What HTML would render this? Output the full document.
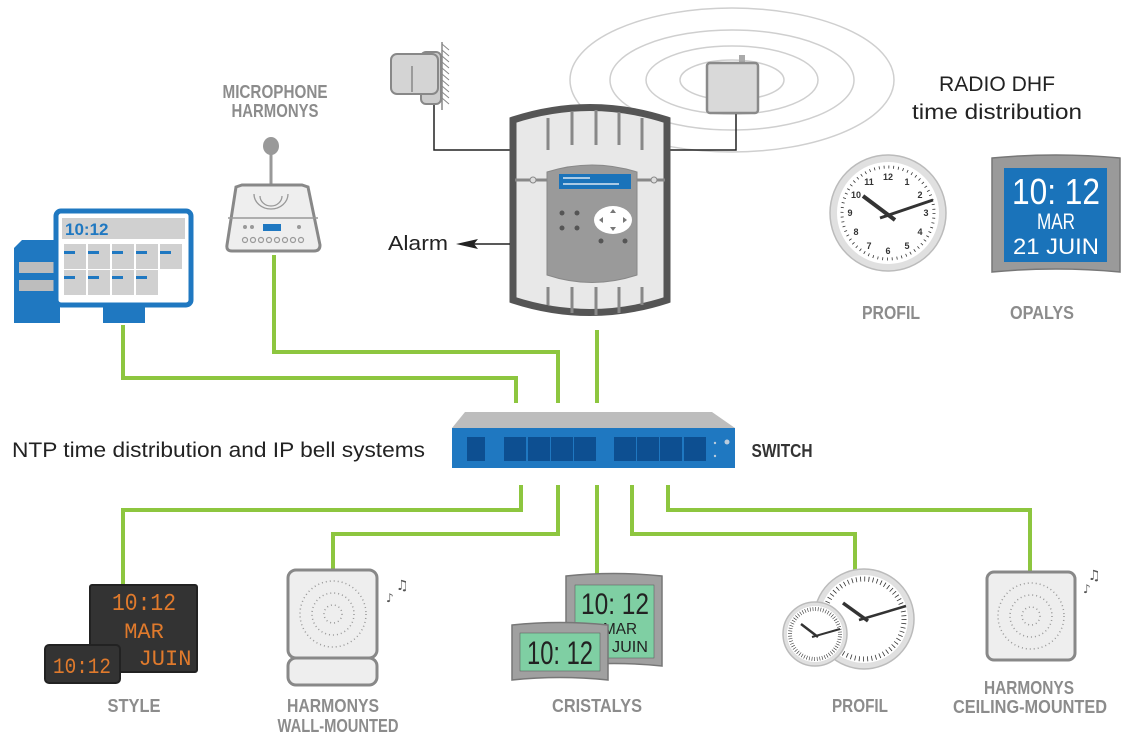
<!DOCTYPE html>
<html><head><meta charset="utf-8"><style>
html,body{margin:0;padding:0;background:#fff;}
svg{display:block;}
.lbl{font-family:"Liberation Sans Narrow","Liberation Sans",sans-serif;font-weight:bold;fill:#8c8c8c;font-size:18px;text-anchor:middle;}
.txt{font-family:"Liberation Sans",sans-serif;fill:#222;}
.g{stroke:#8dc63f;stroke-width:4;fill:none;}
</style></head><body>
<svg width="1135" height="745" viewBox="0 0 1135 745" xmlns="http://www.w3.org/2000/svg">
<g fill="none" stroke="#cfcfcf" stroke-width="1.5">
<ellipse cx="732" cy="80" rx="162" ry="72"/>
<ellipse cx="732" cy="80" rx="122" ry="50"/>
<ellipse cx="732" cy="80" rx="86" ry="34"/>
<ellipse cx="732" cy="80" rx="52" ry="20"/>
</g>
<polyline points="434,100 434,150 512,150" fill="none" stroke="#222" stroke-width="1.5"/>
<polyline points="736,113 736,150 670,150" fill="none" stroke="#222" stroke-width="1.5"/>
<rect x="739" y="55" width="6" height="8" fill="#aaa"/>
<rect x="707" y="63" width="51" height="50" rx="3" fill="#d9d9d9" stroke="#8a8a8a" stroke-width="2.5"/>
<g stroke="#888" stroke-width="1">
<line x1="442" y1="42" x2="442" y2="110" stroke-width="1.5"/>
<path d="M442 44 l7 6 M442 50 l7 6 M442 56 l7 6 M442 62 l7 6 M442 68 l7 6 M442 74 l7 6 M442 80 l7 6 M442 86 l7 6 M442 92 l7 6 M442 98 l7 6"/>
</g>
<rect x="421" y="52" width="20" height="52" rx="5" fill="#ccc" stroke="#888" stroke-width="2"/>
<rect x="391" y="54" width="47" height="40" rx="6" fill="#d4d4d4" stroke="#888" stroke-width="2"/>
<line x1="412" y1="66" x2="412" y2="92" stroke="#888" stroke-width="1.5"/>
<path d="M513 120 Q590 95 667 120 L667 300 Q590 325 513 300 Z" fill="#e8e8e8" stroke="#555" stroke-width="7"/>
<g stroke="#888" stroke-width="3">
<line x1="548" y1="118" x2="548" y2="150"/><line x1="572" y1="112" x2="572" y2="145"/><line x1="596" y1="110" x2="596" y2="145"/><line x1="619" y1="112" x2="619" y2="145"/><line x1="642" y1="118" x2="642" y2="150"/>
<line x1="548" y1="287" x2="548" y2="305"/><line x1="572" y1="287" x2="572" y2="313"/><line x1="596" y1="287" x2="596" y2="315"/><line x1="619" y1="287" x2="619" y2="313"/><line x1="642" y1="287" x2="642" y2="305"/>
<line x1="515" y1="180" x2="547" y2="180"/><line x1="637" y1="180" x2="665" y2="180"/>
</g>
<circle cx="533" cy="180" r="3" fill="#ddd" stroke="#888"/><circle cx="654" cy="180" r="3" fill="#ddd" stroke="#888"/>
<path d="M547 172 Q592 158 637 172 L637 275 Q592 290 547 275 Z" fill="#9a9a9a" stroke="#888" stroke-width="1"/>
<rect x="559" y="174" width="72" height="15" fill="#1a73ba"/>
<line x1="563" y1="178" x2="590" y2="178" stroke="#fff" stroke-width="1.3"/><line x1="563" y1="184" x2="619" y2="184" stroke="#fff" stroke-width="1.3"/>
<g fill="#555"><circle cx="562" cy="213" r="2.5"/><circle cx="577" cy="213" r="2.5"/><circle cx="562" cy="228" r="2.5"/><circle cx="577" cy="228" r="2.5"/><circle cx="601" cy="241" r="2.5"/><circle cx="625" cy="241" r="2.5"/></g>
<ellipse cx="613" cy="220" rx="19" ry="14" fill="#fff"/>
<g fill="#777"><path d="M613 209 l-3 4 h6z"/><path d="M613 231 l-3 -4 h6z"/><path d="M599 220 l4 -3 v6z"/><path d="M627 220 l-4 -3 v6z"/></g>
<line x1="510" y1="244" x2="470" y2="244" stroke="#222" stroke-width="1.5"/>
<path d="M456 244 L478 239 L474 244 L478 249 Z" fill="#222"/>
<text x="388" y="250" class="txt" font-size="20" textLength="60" lengthAdjust="spacingAndGlyphs">Alarm</text>
<polyline class="g" points="123,325 123,378 516,378 516,403"/>
<polyline class="g" points="274,255 274,352 558,352 558,403"/>
<polyline class="g" points="597,330 597,403"/>
<polyline class="g" points="521,485 521,510 123,510 123,585"/>
<polyline class="g" points="558,485 558,534 333,534 333,570"/>
<polyline class="g" points="597,485 597,574"/>
<polyline class="g" points="632,485 632,534 855,534 855,570"/>
<polyline class="g" points="668,485 668,510 1030,510 1030,573"/>
<path d="M465 412 L712 412 L735 428 L452 428 Z" fill="#bdbdbd"/>
<rect x="452" y="428" width="283" height="40" fill="#1f78c1"/>
<g fill="#0d4f91">
<rect x="467" y="437" width="18" height="24"/>
<rect x="504" y="437" width="22" height="24"/><rect x="528" y="437" width="22" height="24"/><rect x="551" y="437" width="22" height="24"/><rect x="574" y="437" width="22" height="24"/>
<rect x="614" y="437" width="22" height="24"/><rect x="637" y="437" width="22" height="24"/><rect x="660" y="437" width="22" height="24"/><rect x="684" y="437" width="22" height="24"/>
</g>
<circle cx="715" cy="443" r="1.2" fill="#bcd"/><circle cx="715" cy="456" r="1.2" fill="#bcd"/><circle cx="727" cy="442" r="2.5" fill="#bcd"/>
<text x="782" y="457" class="lbl" style="fill:#333" font-size="19" textLength="61" lengthAdjust="spacingAndGlyphs">SWITCH</text>
<text x="12" y="457" class="txt" font-size="21" textLength="413" lengthAdjust="spacingAndGlyphs">NTP time distribution and IP bell systems</text>
<path d="M14 248 L22 240 L60 240 L60 323 L14 323 Z" fill="#1f78c1"/>
<rect x="19" y="262" width="35" height="11" fill="#bdbdbd"/><rect x="19" y="280" width="35" height="11" fill="#bdbdbd"/>
<rect x="103" y="305" width="42" height="18" fill="#1f78c1"/>
<rect x="56" y="211" width="135" height="94" rx="5" fill="#fff" stroke="#1f78c1" stroke-width="5"/>
<rect x="62" y="218" width="123" height="21" fill="#d0d0d0"/>
<text x="65" y="235" font-family="Liberation Sans,sans-serif" font-weight="bold" font-size="17" fill="#1f78c1">10:12</text>
<g fill="#d0d0d0">
<rect x="64" y="244" width="22" height="25"/><rect x="88" y="244" width="22" height="25"/><rect x="112" y="244" width="22" height="25"/><rect x="136" y="244" width="22" height="25"/><rect x="160" y="244" width="22" height="25"/>
<rect x="64" y="270" width="22" height="25"/><rect x="88" y="270" width="22" height="25"/><rect x="112" y="270" width="22" height="25"/><rect x="136" y="270" width="22" height="25"/>
</g>
<g fill="#1f78c1">
<rect x="64" y="251" width="11" height="3"/><rect x="88" y="251" width="11" height="3"/><rect x="112" y="251" width="11" height="3"/><rect x="136" y="251" width="11" height="3"/><rect x="160" y="251" width="11" height="3"/>
<rect x="64" y="276" width="11" height="3"/><rect x="88" y="276" width="11" height="3"/><rect x="112" y="276" width="11" height="3"/><rect x="136" y="276" width="11" height="3"/>
</g>
<text x="275" y="98" class="lbl" font-size="17" textLength="105" lengthAdjust="spacingAndGlyphs">MICROPHONE</text>
<text x="275" y="117" class="lbl" font-size="17" textLength="87" lengthAdjust="spacingAndGlyphs">HARMONYS</text>
<line x1="271" y1="150" x2="271" y2="195" stroke="#999" stroke-width="3"/>
<ellipse cx="271" cy="146" rx="8" ry="9" fill="#999"/>
<path d="M236 187 L242 185 L302 185 L308 187 L320 245 Q320 251 314 251 L232 251 Q226 251 227 245 Z" fill="#eee" stroke="#888" stroke-width="3"/>
<line x1="228" y1="218" x2="318" y2="218" stroke="#999" stroke-width="1.5"/>
<g fill="none" stroke="#999" stroke-width="1.3"><path d="M260 196 a11 10 0 0 0 22 0"/><path d="M254 194 a17 15 0 0 0 34 0"/></g>
<rect x="263" y="224" width="18" height="7" fill="#1f78c1"/>
<g fill="#999"><circle cx="245" cy="227" r="2"/><circle cx="252" cy="227" r="2"/><circle cx="299" cy="227" r="2"/></g>
<g fill="none" stroke="#999" stroke-width="1.2"><circle cx="245" cy="240" r="2.5"/><circle cx="253" cy="240" r="2.5"/><circle cx="261" cy="240" r="2.5"/><circle cx="269" cy="240" r="2.5"/><circle cx="277" cy="240" r="2.5"/><circle cx="285" cy="240" r="2.5"/><circle cx="293" cy="240" r="2.5"/><circle cx="301" cy="240" r="2.5"/></g>
<text x="997" y="91" class="txt" font-size="21" text-anchor="middle" textLength="116" lengthAdjust="spacingAndGlyphs">RADIO DHF</text>
<text x="997" y="119" class="txt" font-size="21" text-anchor="middle" textLength="170" lengthAdjust="spacingAndGlyphs">time distribution</text>
<circle cx="888" cy="213" r="58" fill="#e0e0e0" stroke="#bbb" stroke-width="1.5"/>
<circle cx="888" cy="213" r="51" fill="#fff"/>
<circle cx="888" cy="213" r="46" fill="none" stroke="#333" stroke-width="3" stroke-dasharray="0.8 4.02"/>
<g font-family="Liberation Sans,sans-serif" font-weight="bold" font-size="9" fill="#333" text-anchor="middle">
<text x="888" y="180">12</text><text x="907" y="185">1</text><text x="920" y="198">2</text><text x="926" y="216">3</text><text x="920" y="235">4</text><text x="907" y="249">5</text><text x="888" y="254">6</text><text x="869" y="249">7</text><text x="856" y="235">8</text><text x="850" y="216">9</text><text x="856" y="198">10</text><text x="869" y="185">11</text>
</g>
<line x1="863" y1="196" x2="895" y2="220" stroke="#333" stroke-width="4"/>
<line x1="880" y1="218" x2="933" y2="200" stroke="#333" stroke-width="3"/>
<text x="891" y="319" class="lbl" textLength="58" lengthAdjust="spacingAndGlyphs">PROFIL</text>
<path d="M992 158 Q1056 152 1120 158 L1120 272 Q1056 266 992 272 Z" fill="#9a9a9a" stroke="#777" stroke-width="1.5"/>
<rect x="1004" y="168" width="103" height="94" fill="#1a73ba"/>
<g font-family="Liberation Sans Narrow,Liberation Sans,sans-serif" fill="#fff" text-anchor="middle" lengthAdjust="spacingAndGlyphs">
<text x="1056" y="204" font-size="36" textLength="88" lengthAdjust="spacingAndGlyphs">10: 12</text>
<text x="1056" y="229" font-size="22" textLength="38" lengthAdjust="spacingAndGlyphs">MAR</text>
<text x="1056" y="254" font-size="22" textLength="86" lengthAdjust="spacingAndGlyphs">21 JUIN</text>
</g>
<text x="1042" y="319" class="lbl" textLength="64" lengthAdjust="spacingAndGlyphs">OPALYS</text>
<rect x="90" y="585" width="107" height="87" rx="2" fill="#333" stroke="#222" stroke-width="2"/>
<g font-family="Liberation Mono,monospace" fill="#e07a2c" text-anchor="middle">
<text x="144" y="610" font-size="24" textLength="64" lengthAdjust="spacingAndGlyphs">10:12</text>
<text x="144" y="638" font-size="22">MAR</text>
<text x="165" y="665" font-size="22">JUIN</text>
</g>
<rect x="45" y="645" width="75" height="38" rx="4" fill="#333" stroke="#222" stroke-width="2"/>
<text x="82" y="673" font-family="Liberation Mono,monospace" font-size="22" fill="#e07a2c" text-anchor="middle" textLength="58" lengthAdjust="spacingAndGlyphs">10:12</text>
<text x="134" y="712" class="lbl" textLength="53" lengthAdjust="spacingAndGlyphs">STYLE</text>
<rect x="288" y="570" width="89" height="88" rx="8" fill="#eee" stroke="#888" stroke-width="3"/>
<rect x="288" y="658" width="89" height="27" rx="8" fill="#eee" stroke="#888" stroke-width="3"/>
<g fill="none" stroke="#999" stroke-width="1.5" stroke-dasharray="1 3"><circle cx="333" cy="614" r="33"/><circle cx="333" cy="614" r="21"/><circle cx="333" cy="614" r="9"/></g>
<text x="396" y="590" font-size="14" fill="#555" font-family="DejaVu Sans,sans-serif">♫</text>
<text x="386" y="602" font-size="12" fill="#555" font-family="DejaVu Sans,sans-serif">♪</text>
<text x="333" y="712" class="lbl" textLength="92" lengthAdjust="spacingAndGlyphs">HARMONYS</text>
<text x="338" y="732" class="lbl" textLength="121" lengthAdjust="spacingAndGlyphs">WALL-MOUNTED</text>
<path d="M566 576 Q614 571 662 576 L662 666 Q614 661 566 666 Z" fill="#a0a0a0" stroke="#777" stroke-width="1.5"/>
<rect x="575" y="585" width="79" height="73" fill="#7fcfa3" stroke="#555" stroke-width="0.5"/>
<g font-family="Liberation Sans Narrow,Liberation Sans,sans-serif" fill="#222" text-anchor="middle"><text x="615" y="614" font-size="30" textLength="68" lengthAdjust="spacingAndGlyphs">10: 12</text><text x="620" y="634" font-size="16" textLength="34" lengthAdjust="spacingAndGlyphs">MAR</text><text x="630" y="652" font-size="16" textLength="36" lengthAdjust="spacingAndGlyphs">JUIN</text></g>
<path d="M512 625 Q560 620 608 625 L608 680 Q560 675 512 680 Z" fill="#a0a0a0" stroke="#777" stroke-width="1.5"/>
<rect x="520" y="633" width="80" height="38" fill="#7fcfa3" stroke="#555" stroke-width="0.5"/>
<text x="560" y="664" font-family="Liberation Sans Narrow,Liberation Sans,sans-serif" font-size="32" fill="#222" text-anchor="middle" textLength="66" lengthAdjust="spacingAndGlyphs">10: 12</text>
<text x="597" y="712" class="lbl" textLength="90" lengthAdjust="spacingAndGlyphs">CRISTALYS</text>
<circle cx="864" cy="619" r="50" fill="#e0e0e0" stroke="#bbb" stroke-width="1.5"/>
<circle cx="864" cy="619" r="44" fill="#fff"/>
<circle cx="864" cy="619" r="40" fill="none" stroke="#333" stroke-width="5" stroke-dasharray="0.8 3.39"/>
<line x1="843" y1="603" x2="868" y2="621" stroke="#333" stroke-width="3.5"/>
<line x1="859" y1="620" x2="906" y2="606" stroke="#333" stroke-width="2.5"/>
<circle cx="815" cy="634" r="32" fill="#e0e0e0" stroke="#bbb" stroke-width="1.5"/>
<circle cx="815" cy="634" r="28" fill="#fff"/>
<circle cx="815" cy="634" r="25" fill="none" stroke="#333" stroke-width="4" stroke-dasharray="0.6 2.02"/>
<line x1="801" y1="624" x2="818" y2="637" stroke="#333" stroke-width="2.5"/>
<line x1="812" y1="637" x2="840" y2="629" stroke="#333" stroke-width="2"/>
<text x="860" y="712" class="lbl" textLength="56" lengthAdjust="spacingAndGlyphs">PROFIL</text>
<rect x="987" y="572" width="88" height="88" rx="7" fill="#eee" stroke="#888" stroke-width="3"/>
<g fill="none" stroke="#999" stroke-width="1.5" stroke-dasharray="1 3"><circle cx="1031" cy="616" r="33"/><circle cx="1031" cy="616" r="21"/><circle cx="1031" cy="616" r="9"/></g>
<text x="1088" y="580" font-size="14" fill="#555" font-family="DejaVu Sans,sans-serif">♫</text>
<text x="1083" y="593" font-size="12" fill="#555" font-family="DejaVu Sans,sans-serif">♪</text>
<text x="1029" y="694" class="lbl" textLength="90" lengthAdjust="spacingAndGlyphs">HARMONYS</text>
<text x="1030" y="713" class="lbl" textLength="154" lengthAdjust="spacingAndGlyphs">CEILING-MOUNTED</text>
</svg>
</body></html>
